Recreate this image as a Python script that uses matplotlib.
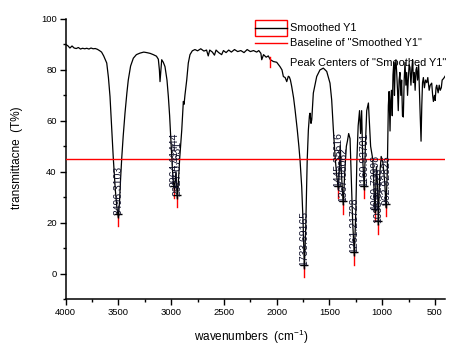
import matplotlib
matplotlib.use("Agg")
import matplotlib.pyplot as plt
from matplotlib.lines import Line2D
from matplotlib.patches import Rectangle
from matplotlib.ticker import MultipleLocator

plt.rcParams['font.family'] = ['Liberation Sans', 'DejaVu Sans']
plt.rcParams['mathtext.fontset'] = 'custom'
plt.rcParams['mathtext.rm'] = 'Liberation Sans'
plt.rcParams['mathtext.it'] = 'Liberation Sans:italic'

# ---- data ----
wavenumber = [
    4000, 3980, 3960, 3940, 3920, 3900, 3880, 3860, 3840, 3820, 3800, 3780, 3760, 3740, 3720, 3700,
    3680, 3660, 3640, 3620, 3611, 3595, 3580, 3565, 3549, 3530, 3515, 3501, 3490, 3480, 3469, 3455,
    3438, 3420, 3407, 3385, 3359, 3330, 3296, 3260, 3232, 3200, 3170, 3140, 3122, 3112, 3106, 3098,
    3090, 3075, 3059, 3040, 3027, 3015, 3005, 2990, 2980, 2970, 2962, 2955, 2948, 2942, 2932, 2920,
    2910, 2900, 2890, 2885, 2878, 2870, 2853, 2838, 2822, 2800, 2775, 2750, 2720, 2690, 2665, 2649,
    2635, 2610, 2590, 2575, 2550, 2522, 2505, 2480, 2455, 2430, 2400, 2370, 2340, 2310, 2280, 2250,
    2220, 2190, 2170, 2150, 2142, 2125, 2100, 2080, 2060, 2032, 2000, 1969, 1950, 1937, 1920, 1905,
    1890, 1880, 1870, 1858, 1840, 1826, 1805, 1790, 1779, 1763, 1750, 1738, 1725, 1716, 1711, 1700,
    1690, 1684, 1675, 1668, 1660, 1653, 1621, 1590, 1558, 1526, 1495, 1479, 1463, 1445, 1430, 1416,
    1405, 1398, 1388, 1369, 1355, 1340, 1330, 1318, 1305, 1295, 1280, 1264, 1250, 1240, 1228, 1215,
    1205, 1195, 1185, 1170, 1160, 1147, 1131, 1120, 1110, 1090, 1068, 1055, 1045, 1037, 1025, 1010,
    995, 985, 975, 964, 952, 942, 935, 930, 926, 920, 912, 905, 898, 890, 884, 878,
    870, 863, 855, 848, 840, 832, 824, 816, 808, 800, 792, 784, 776, 768, 760, 752,
    745, 737, 728, 720, 712, 704, 696, 688, 680, 674, 665, 655, 648, 640, 632, 625,
    618, 610, 600, 590, 578, 568, 555, 545, 531, 522, 515, 505, 498, 490, 484, 470,
    460, 450, 440, 432, 421, 412, 405,
]
transmittance = [
    90.0, 89.5, 88.6, 89.4, 88.6, 88.4, 88.8, 88.2, 88.5, 88.3, 88.5, 88.2, 88.6, 88.3, 88.4, 88.1,
    87.6, 87.0, 85.5, 83.5, 82.7, 77.0, 69.5, 58.0, 45.4, 33.0, 26.0, 22.0, 28.0, 37.0, 45.3, 54.0,
    63.0, 71.0, 76.0, 81.5, 84.6, 86.0, 86.6, 87.0, 86.8, 86.5, 86.0, 85.4, 84.2, 80.0, 75.4, 80.0,
    84.0, 83.0, 81.3, 76.0, 69.5, 62.0, 53.8, 42.0, 36.0, 33.0, 37.0, 40.0, 34.0, 29.5, 36.0, 45.0,
    51.0, 56.4, 64.0, 67.6, 66.5, 70.0, 76.0, 82.7, 86.0, 87.5, 88.0, 87.5, 88.3, 87.4, 87.8, 85.5,
    87.8, 87.0, 85.8, 87.8, 86.8, 86.0, 87.6, 86.8, 87.8, 87.0, 88.0, 87.2, 87.6, 86.8, 88.0, 87.2,
    87.6, 87.0, 87.6, 86.5, 84.0, 86.0, 85.0, 85.5, 84.0, 83.3, 83.0, 81.3, 80.0, 77.4, 77.0, 75.4,
    77.5, 77.2, 76.0, 73.5, 69.0, 64.3, 56.4, 50.0, 44.6, 34.0, 20.0, 2.0, 18.0, 34.0, 44.6, 56.4,
    62.0, 63.0, 59.0, 60.4, 66.0, 70.9, 77.4, 80.0, 80.7, 79.4, 74.8, 68.2, 56.4, 45.0, 38.0, 33.0,
    42.0, 50.5, 40.0, 27.0, 40.0, 50.0, 52.0, 55.0, 53.0, 40.0, 20.0, 7.0, 25.0, 45.0, 58.0, 64.0,
    55.0, 64.0, 45.0, 33.0, 50.0, 64.0, 67.0, 58.0, 50.0, 45.0, 24.0, 42.0, 35.0, 19.0, 38.0, 46.0,
    44.0, 40.0, 35.0, 26.0, 40.0, 66.0, 71.5, 62.0, 56.0, 68.0, 72.0, 62.0, 78.0, 83.0, 70.0, 80.0,
    84.0, 79.0, 72.0, 64.0, 76.0, 79.0, 70.0, 76.0, 62.0, 61.5, 76.0, 83.0, 74.0, 79.0, 70.0, 77.0,
    82.0, 81.0, 74.0, 80.0, 84.0, 75.0, 79.0, 72.0, 80.0, 81.0, 76.0, 82.0, 72.0, 62.0, 52.0, 66.0,
    75.0, 77.0, 73.0, 76.0, 75.0, 77.0, 72.0, 74.0, 74.8, 70.0, 67.6, 70.0, 68.0, 73.0, 74.0, 71.0,
    74.0, 72.0, 73.0, 76.0, 76.5, 77.0, 77.5,
]
baseline_value = 45

peak_x = [3501, 2970, 2942, 1738, 1416, 1369, 1264, 1170, 1068, 1037, 964]
peak_y = [22, 33, 29.5, 2, 33, 27, 7, 33, 24, 19, 26]
peak_labels = ["3496.3103", "2964.11444", "2927.07631", "1733.69165", "1445.35616",
               "1367.68062", "1261.21728", "1160.93701", "1060.73998", "1035.62128",
               "962.92826"]

# ---- figure ----
W, H = 468, 351
fig = plt.figure(figsize=(W / 100, H / 100), dpi=100)
ax = fig.add_axes([65.7 / W, 1 - 299 / H, (445 - 65.7) / W, (299 - 19) / H])

ax.plot(wavenumber, transmittance, color='black', lw=0.9, zorder=2)
ax.axhline(baseline_value, color='red', lw=1.0, zorder=3)

for x, y, lab in zip(peak_x, peak_y, peak_labels):
    ax.plot([x, x], [y - 3.5, y + 0.5], color='red', lw=1.0, zorder=4)
    ax.plot([x], [y + 1.5], marker='+', color='black', ms=6, mew=1.0, zorder=5)
    ax.text(x, y + 1.0, lab, rotation=90, ha='center', va='bottom',
            fontsize=7.5, color='#10102a', zorder=6)

ax.set_xlim(4000, 405)
ax.set_ylim(-10, 100)
ax.xaxis.set_major_locator(MultipleLocator(500))
ax.xaxis.set_minor_locator(MultipleLocator(250))
ax.yaxis.set_major_locator(MultipleLocator(20))
ax.yaxis.set_minor_locator(MultipleLocator(10))
ax.tick_params(which='major', direction='out', length=4.5, width=1.0, labelsize=6.8,
               colors='black', pad=2)
ax.tick_params(which='minor', direction='out', length=2.5, width=1.0)
for s in ['top', 'right']:
    ax.spines[s].set_visible(False)
for s in ['left', 'bottom']:
    ax.spines[s].set_linewidth(1.1)

fig.text(17 / W, 1 - 158 / H, 'transmittacne  (T%)', rotation=90, ha='center',
         va='center', fontsize=8.5)
fig.text(251 / W, 1 - 337 / H, r'wavenumbers  (cm$^{\mathrm{-1}}$)', ha='center',
         va='center', fontsize=8.5)

# ---- legend (drawn manually, Origin style) ----
def fx(px):
    return px / W

def fy(py):
    return 1 - py / H

fig.add_artist(Rectangle((fx(255), fy(36)), fx(286.7) - fx(255), fy(20) - fy(36),
                         transform=fig.transFigure, fill=False, edgecolor='red', lw=1.0))
fig.add_artist(Line2D([fx(255), fx(286.7)], [fy(28.3), fy(28.3)], transform=fig.transFigure,
                      color='black', lw=1.0))
fig.add_artist(Line2D([fx(255), fx(286.7)], [fy(42.7), fy(42.7)], transform=fig.transFigure,
                      color='red', lw=1.0))
fig.add_artist(Line2D([fx(270), fx(270)], [fy(57), fy(67)], transform=fig.transFigure,
                      color='red', lw=1.0))
leg_font = 7.9
fig.text(fx(290), fy(28.3), 'Smoothed Y1', ha='left', va='center', fontsize=leg_font)
fig.text(fx(290), fy(43), 'Baseline of "Smoothed Y1"', ha='left', va='center', fontsize=leg_font)
fig.text(fx(290), fy(63), 'Peak Centers of "Smoothed Y1"', ha='left', va='center',
         fontsize=leg_font)

fig.savefig('out.png', dpi=100)
